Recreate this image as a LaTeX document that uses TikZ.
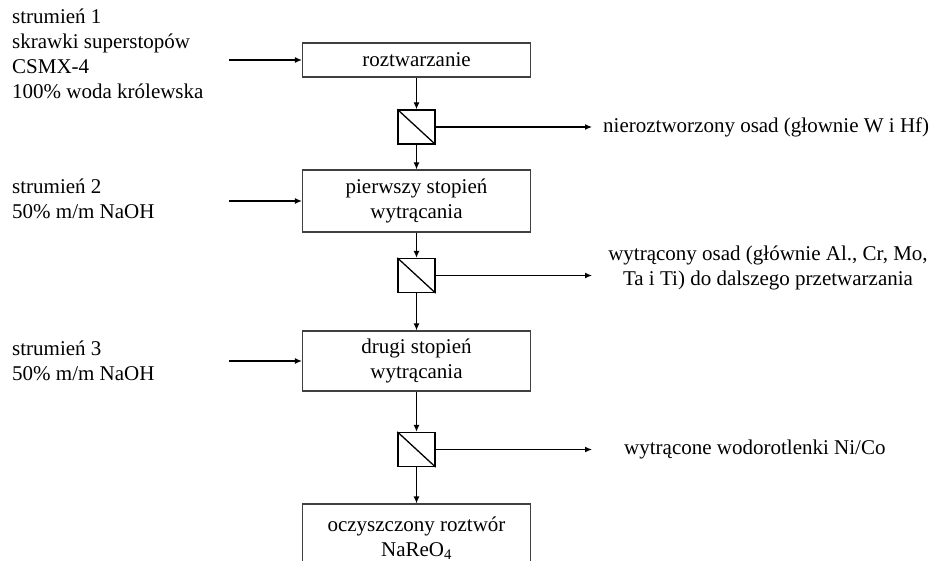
\documentclass[tikz,border=0pt]{standalone}
\usepackage{fontspec}
\setmainfont{Liberation Serif}
\usetikzlibrary{arrows.meta}
\begin{document}
\begin{tikzpicture}[x=1pt,y=-1pt,
  every node/.style={font=\fontsize{21}{25}\selectfont, text=black, inner sep=0pt},
  stage/.style={draw=black!75, line width=1.2pt, minimum width=228pt, align=center},
  filter/.style={draw=black, line width=1.3pt, minimum width=37pt, minimum height=34pt},
  flow/.style={draw=black, line width=1.2pt, -{Latex[length=7pt,width=6pt]}},
  label/.style={align=left}
]
\useasboundingbox (0,0) rectangle (932,561);
\begin{scope}
\clip (0,0) rectangle (932,561);

% process stages
\node[stage, minimum height=34pt] (b1) at (416.5,60) {roztwarzanie};
\node[stage, minimum height=62pt] (b2) at (416.5,201) {pierwszy stopień\\wytrącania};
\node[stage, minimum height=60pt] (b3) at (416.5,361) {drugi stopień\\wytrącania};
\node[stage, minimum height=68pt] (b4) at (416.5,538) {oczyszczony roztwór\\NaReO\textsubscript{4}};

% filters
\node[filter] (f1) at (416.5,127) {};
\node[filter] (f2) at (416.5,275.5) {};
\node[filter] (f3) at (416.5,449.5) {};
\foreach \f in {f1,f2,f3}
  \draw[line width=1.3pt] (\f.north west) -- (\f.south east);

% feed streams
\node[label, anchor=north west] (s1) at (12,9) {strumień 1\\skrawki superstopów\\CSMX-4\\100\% woda królewska};
\node[label, anchor=north west] (s2) at (12,179) {strumień 2\\50\% m/m NaOH};
\node[label, anchor=north west] (s3) at (12,341) {strumień 3\\50\% m/m NaOH};

\coordinate (i1) at (229,60);
\coordinate (i2) at (229,201);
\coordinate (i3) at (229,361);
\draw[flow] (i1) -- (b1.west);
\draw[flow] (i2) -- (b2.west);
\draw[flow] (i3) -- (b3.west);

% main line
\draw[flow] (b1.south) -- (f1.north);
\draw[flow] (f1.south) -- (b2.north);
\draw[flow] (b2.south) -- (f2.north);
\draw[flow] (f2.south) -- (b3.north);
\draw[flow] (b3.south) -- (f3.north);
\draw[flow] (f3.south) -- (b4.north);

% separated solids
\coordinate (o1) at (592,127);
\coordinate (o2) at (592,275.5);
\coordinate (o3) at (592,449.5);
\draw[flow] (f1.east) -- (o1);
\draw[flow] (f2.east) -- (o2);
\draw[flow] (f3.east) -- (o3);

\node[anchor=west] (t1) at (603,127) {nieroztworzony osad (głownie W i Hf)};
\node[align=center] (t2) at (768,268) {wytrącony osad (głównie Al., Cr, Mo,\\Ta i Ti) do dalszego przetwarzania};
\node[anchor=west] (t3) at (624,449.5) {wytrącone wodorotlenki Ni/Co};
\end{scope}
\end{tikzpicture}
\end{document}
